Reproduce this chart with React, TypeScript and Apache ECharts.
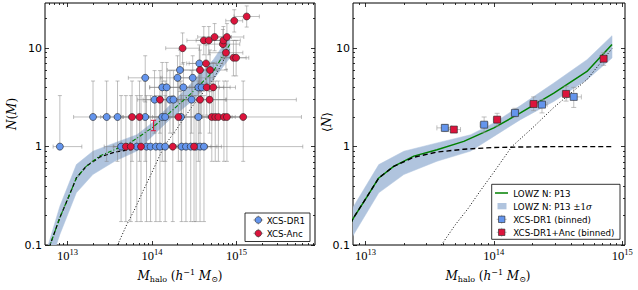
import React, { useEffect, useRef } from "react";
import * as echarts from "echarts";

// ---------------- data ----------------
// LOWZ N: P13 model (total = green, centrals = dashed, satellites = dotted)
const modelMass = [5.0e12, 6.2e12, 8.1e12, 1.03e13, 1.27e13, 1.66e13, 2.38e13, 3.61e13, 5.83e13, 1.0e14, 1.61e14, 2.93e14, 5.31e14, 8.32e14];
const modelTotal = [0.062, 0.1, 0.19, 0.31, 0.48, 0.63, 0.8, 0.93, 1.13, 1.55, 2.2, 3.5, 5.8, 10.9];
const modelCentral = [0.062, 0.1, 0.19, 0.31, 0.48, 0.63, 0.78, 0.88, 0.94, 0.98, 0.99, 1.0, 1.0, 1.0];
const satMass = [3.9e13, 5.0e13, 6.3e13, 7.9e13, 1.0e14, 1.38e14, 2.0e14, 2.93e14, 5.31e14, 8.32e14];
const satN = [0.1, 0.16, 0.235, 0.36, 0.55, 1.0, 1.55, 2.5, 4.8, 9.9];
// in the left panel the centrals curve is only visible up to this mass
const leftCentralMaxMass = 6.0e13;
// ±1 sigma band
const bandMass = [5.0e12, 5.9e12, 8.1e12, 1.27e13, 1.99e13, 3.61e13, 6.6e13, 1.0e14, 1.61e14, 2.93e14, 5.31e14, 8.32e14];
const bandUpper = [0.064, 0.1, 0.248, 0.656, 0.897, 1.09, 1.32, 1.74, 2.61, 4.43, 7.64, 13.4];
const bandLower = [0.039, 0.057, 0.128, 0.339, 0.52, 0.71, 0.9, 1.27, 1.88, 2.88, 4.79, 7.95];

// vertical (count) error limits, per count value
const countValues = [1, 2, 3, 4, 5, 6, 7, 8, 9, 10, 11, 12, 13, 19, 21];
const countLower = [0.173, 0.708, 1.37, 2.09, 2.84, 3.62, 4.42, 5.23, 6.06, 6.89, 7.73, 8.57, 9.42, 14.6, 16.4];
const countUpper = [3.3, 4.64, 5.92, 7.16, 8.38, 9.58, 10.8, 12.0, 13.1, 14.3, 15.5, 16.6, 17.8, 24.6, 26.9];

// XCS-DR1 clusters (mass, count, mass error left/right in dex)
const dr1Mass = [8.1e12, 4.3e13, 6.6e13, 8.6e13, 9.6e13, 1.11e14, 1.24e14, 1.43e14, 2.24e14, 2.52e14, 2.87e14, 3.32e14, 3.7e14, 4.12e14,
  2.0e13, 2.9e13, 3.9e13, 8.3e13, 1.32e14, 1.43e14, 2.2e14, 3.53e14,
  1.07e14, 1.63e14, 1.79e14, 2.94e14,
  1.32e14, 1.49e14, 2.35e14, 3.53e14, 3.87e14,
  8.3e13, 2.0e14, 3.03e14,
  2.14e14, 3.63e14];
const dr1N = [1, 1, 1, 1, 1, 1, 1, 1, 1, 1, 1, 1, 1, 1,
  2, 2, 2, 2, 2, 2, 2, 2,
  3, 3, 3, 3,
  4, 4, 4, 4, 4,
  5, 5, 5,
  6, 7];
const dr1ErrL = [0.08, 0.2, 0.15, 0.2, 0.15, 0.2, 0.25, 0.15, 0.2, 0.2, 0.15, 0.2, 0.25, 0.3,
  0.23, 0.15, 0.2, 0.2, 0.2, 0.15, 0.2, 0.25,
  0.2, 0.2, 0.15, 0.25,
  0.15, 0.2, 0.2, 0.2, 0.25,
  0.2, 0.2, 0.2,
  0.15, 0.15];
const dr1ErrR = [0.26, 0.2, 0.2, 0.25, 0.15, 0.2, 0.2, 0.3, 0.2, 0.25, 0.2, 0.3, 0.2, 1.17,
  0.2, 0.2, 0.2, 0.25, 0.2, 0.2, 0.2, 0.3,
  0.2, 0.25, 0.2, 1.24,
  0.2, 0.2, 0.2, 0.25, 0.4,
  0.2, 0.2, 0.25,
  0.2, 0.2];
const dr1UpperOnly = [0];

// XCS-Anc clusters
const ancMass = [4.9e13, 5.6e13, 7.4e13, 1.76e14, 3.14e14,
  5.8e13, 7.1e13, 2.05e14, 5.1e14, 5.6e14, 6.1e14, 7.1e14, 7.7e14, 1.2e15,
  1.24e14, 3.7e14, 4.8e14,
  4.44e14, 5.3e14,
  3.7e14, 4.86e14,
  4.36e14, 9.2e14, 9.9e14, 7.5e14, 2.3e14, 6.9e14,
  4.1e14, 4.7e14, 7.0e14, 5.5e14, 7.7e14, 9.4e14, 1.32e15];
const ancN = [1, 1, 1, 1, 1,
  2, 2, 2, 2, 2, 2, 2, 2, 2,
  3, 3, 3,
  4, 4,
  6, 6,
  7, 8, 8, 9, 10, 11,
  12, 12, 12, 13, 13, 19, 21];
const ancErrL = [0.15, 0.2, 0.2, 0.2, 0.2,
  0.2, 0.2, 0.2, 0.2, 0.15, 0.2, 0.2, 0.15, 0.25,
  0.2, 0.2, 0.15,
  0.2, 0.2,
  0.2, 0.15,
  0.2, 0.15, 0.15, 0.2, 0.2, 0.2,
  0.2, 0.15, 0.2, 0.2, 0.15, 0.1, 0.15];
const ancErrR = [0.2, 0.2, 0.2, 0.25, 0.2,
  0.2, 0.25, 0.2, 0.2, 0.2, 0.2, 0.25, 0.2, 0.69,
  0.25, 0.3, 0.2,
  0.2, 0.2,
  0.2, 0.2,
  0.2, 0.15, 0.15, 0.2, 0.2, 0.2,
  0.2, 0.2, 0.2, 0.2, 0.2, 0.1, 0.15];

// single red limit marker
const limitMass = [1.04e14];
const limitN = [1.55];
const limitLo = [1.45];
const limitHi = [1.85];

// binned points (right panel)
const binDr1Mass = [4.15e13, 8.4e13, 1.46e14, 2.37e14, 4.19e14];
const binDr1MLo = [3.6e13, 7.8e13, 1.37e14, 2.2e14, 3.7e14];
const binDr1MHi = [4.7e13, 9.0e13, 1.56e14, 2.6e14, 4.8e14];
const binDr1N = [1.55, 1.67, 2.2, 2.67, 3.2];
const binDr1NLo = [1.42, 1.4, 2.0, 2.2, 2.5];
const binDr1NHi = [1.68, 2.0, 2.45, 3.0, 4.0];

const binAncMass = [4.88e13, 1.06e14, 2.04e14, 3.65e14, 7.16e14];
const binAncMLo = [4.45e13, 9.9e13, 1.9e14, 3.4e14, 6.8e14];
const binAncMHi = [5.5e13, 1.13e14, 2.2e14, 3.9e14, 7.5e14];
const binAncN = [1.49, 1.88, 2.71, 3.43, 7.82];
const binAncNLo = [1.43, 1.62, 2.32, 2.9, 6.7];
const binAncNHi = [1.56, 2.18, 3.2, 4.1, 9.0];

// axes
const xRangeLeft = [5.4e12, 8.5e15];
const xRangeRight = [8.0e12, 1.05e15];
const yRange = [0.1, 28.8];
const xTickExp = [13, 14, 15];
const yTickVals = [0.1, 1, 10];
const yTickLabels = ["0.1", "1", "10"];
const minorMult = [2, 3, 4, 5, 6, 7, 8, 9];

// ---------------- helpers ----------------
const LG = (v: number) => Math.log10(v);

const BLUE = "#6495ED";
const RED = "#DC143C";
const BAND = "#b0c4de";
const GREEN = "#008000";

function minorTicks(lo: number, hi: number) {
  const out: number[] = [];
  for (let d = Math.floor(LG(lo)) - 1; d <= Math.ceil(LG(hi)); d++) {
    for (const k of minorMult) {
      const v = LG(k) + d;
      if (v > LG(lo) && v < LG(hi)) out.push(v);
    }
  }
  return out;
}

function axisSet(dim: "x" | "y", grid: number, range: number[], major: number[], labelCfg: any) {
  const min = LG(range[0]);
  const max = LG(range[1]);
  const minor = minorTicks(range[0], range[1]);
  const base: any = {
    type: "value", gridIndex: grid, min, max, silent: true,
    axisLine: { show: false, onZero: false }, splitLine: { show: false }, minorTick: { show: false },
  };
  const posA = dim === "x" ? "bottom" : "left";
  const posB = dim === "x" ? "top" : "right";
  const tick = (vals: number[], len: number) => ({
    show: true, inside: true, length: len, customValues: vals,
    lineStyle: { color: "#000", width: 0.8 },
  });
  return [
    { ...base, position: posA, axisTick: tick(major, 4), axisLabel: { ...labelCfg, customValues: major } },
    { ...base, position: posA, axisTick: tick(minor, 2), axisLabel: { show: false } },
    { ...base, position: posB, axisTick: tick(major, 4), axisLabel: { show: false } },
    { ...base, position: posB, axisTick: tick(minor, 2), axisLabel: { show: false } },
  ];
}

const xLabelCfg = {
  show: true,
  margin: 2,
  formatter: (v: number) => `{b|10}{s|${Math.round(v)}}`,
  rich: {
    b: { fontFamily: "Liberation Serif", fontSize: 12.5, color: "#000" },
    s: { fontFamily: "Liberation Serif", fontSize: 8.5, color: "#000", padding: [0, 0, 8, 0] },
  },
};
const yLabelCfg = {
  show: true,
  margin: 3,
  fontFamily: "DejaVu Sans",
  fontSize: 11,
  color: "#000",
  formatter: (v: number) => {
    const i = yTickVals.findIndex((t) => Math.abs(LG(t) - v) < 1e-6);
    return i >= 0 ? yTickLabels[i] : "";
  },
};

function linePts(ms: number[], ns: number[]) {
  return ms.map((m, i) => [LG(m), LG(ns[i])]);
}

function bandSeries(xi: number, yi: number) {
  const up = linePts(bandMass, bandUpper);
  const lo = linePts(bandMass, bandLower);
  return {
    type: "custom", xAxisIndex: xi, yAxisIndex: yi, clip: true, silent: true, z: 1,
    encode: { x: 0, y: 1 },
    data: [[LG(bandMass[6]), LG(bandUpper[6])]],
    renderItem: (_p: any, api: any) => {
      const pts = up.map((p) => api.coord(p)).concat(lo.slice().reverse().map((p) => api.coord(p)));
      return { type: "polygon", shape: { points: pts }, style: { fill: BAND, stroke: BAND, lineWidth: 0.5 } };
    },
  };
}

function errorSeries(rows: number[][], xi: number, yi: number, color: string, cap: number, z: number) {
  return {
    type: "custom", xAxisIndex: xi, yAxisIndex: yi, clip: true, silent: true, z,
    encode: { x: 0, y: 1 },
    data: rows,
    renderItem: (_p: any, api: any) => {
      const x = api.value(0), y = api.value(1), x0 = api.value(2), x1 = api.value(3), y0 = api.value(4), y1 = api.value(5);
      const c = api.coord([x, y]);
      const a = api.coord([x0, y]);
      const b = api.coord([x1, y]);
      const lo = api.coord([x, y0]);
      const hi = api.coord([x, y1]);
      const style = { stroke: color, lineWidth: 1 };
      const seg = (p: number, q: number, r: number, s: number) => ({ type: "line", shape: { x1: p, y1: q, x2: r, y2: s }, style });
      const ch: any[] = [];
      if (x1 > x0) {
        ch.push(seg(a[0], c[1], b[0], c[1]));
        ch.push(seg(a[0], c[1] - cap, a[0], c[1] + cap));
        ch.push(seg(b[0], c[1] - cap, b[0], c[1] + cap));
      }
      if (y1 > y0) {
        ch.push(seg(c[0], lo[1], c[0], hi[1]));
        if (y0 < y) ch.push(seg(c[0] - cap, lo[1], c[0] + cap, lo[1]));
        ch.push(seg(c[0] - cap, hi[1], c[0] + cap, hi[1]));
      }
      return { type: "group", children: ch };
    },
  };
}

function clusterRows(ms: number[], ns: number[], el: number[], er: number[], upperOnly: number[]) {
  return ms.map((m, i) => {
    const k = countValues.indexOf(ns[i]);
    const lx = LG(m);
    const ly = LG(ns[i]);
    const yl = upperOnly.includes(i) ? ly : LG(countLower[k]);
    return [lx, ly, lx - el[i], lx + er[i], yl, LG(countUpper[k])];
  });
}

function binRows(ms: number[], mlo: number[], mhi: number[], ns: number[], nlo: number[], nhi: number[]) {
  return ms.map((m, i) => [LG(m), LG(ns[i]), LG(mlo[i]), LG(mhi[i]), LG(nlo[i]), LG(nhi[i])]);
}

function lineSeries(xi: number, yi: number, data: number[][], color: string, width: number, type: any, z: number) {
  return {
    type: "line", xAxisIndex: xi, yAxisIndex: yi, data, showSymbol: false, symbol: "none", silent: true,
    clip: true, z, lineStyle: { color, width, type }, emphasis: { disabled: true },
  };
}

function scatterSeries(xi: number, yi: number, data: number[][], color: string, symbol: string, size: number) {
  return {
    type: "scatter", xAxisIndex: xi, yAxisIndex: yi, data, symbol, symbolSize: size, silent: true, z: 6,
    itemStyle: { color, borderColor: "#222", borderWidth: 0.6, opacity: 1 },
  };
}

// ---------------- graphic (titles + legends) ----------------
const serifI = { fontFamily: "DejaVu Serif", fontStyle: "italic", fontSize: 12, fill: "#000" };
const serifR = { fontFamily: "DejaVu Serif", fontSize: 12, fill: "#000" };
const titleRich = {
  i: serifI,
  r: serifR,
  sub: { fontFamily: "DejaVu Serif", fontSize: 8, fill: "#000", padding: [6, 0, 0, 0] },
  sup: { fontFamily: "DejaVu Serif", fontSize: 8, fill: "#000", padding: [0, 0, 7, 0] },
};
const xTitle = "{i|M}{sub|halo}{r| (}{i|h}{sup|−1}{r| }{i|M}{sub|⊙}{r|)}";

function titleText(x: number, y: number, text: string, rot = 0) {
  return {
    type: "text", x, y, rotation: rot, z: 100, silent: true,
    style: { text, rich: titleRich, align: "center", verticalAlign: "middle" },
  };
}

const legFont = { fontFamily: "DejaVu Sans", fontSize: 8.7, fill: "#000" };
function legText(x: number, y: number, text: string, rich?: any) {
  return { type: "text", x, y, z: 101, silent: true, style: { ...legFont, text, rich, align: "left", verticalAlign: "middle" } };
}
function legErrIcon(x: number, y: number, color: string) {
  const st = { stroke: color, lineWidth: 1 };
  return [
    { type: "line", z: 101, silent: true, shape: { x1: x - 5, y1: y, x2: x + 5, y2: y }, style: st },
    { type: "line", z: 101, silent: true, shape: { x1: x, y1: y - 4.5, x2: x, y2: y + 4.5 }, style: st },
  ];
}

const graphics: any[] = [
  titleText(180, 276, xTitle),
  titleText(488, 276, xTitle),
  titleText(12, 114, "{i|N}{r|(}{i|M}{r|)}", Math.PI / 2),
  titleText(327, 122, "{r|⟨}{i|N}{r|⟩}", Math.PI / 2),
  // left legend
  { type: "rect", z: 100, silent: true, shape: { x: 245, y: 213, width: 65, height: 28.5 }, style: { fill: "#fff", stroke: "#000", lineWidth: 0.8 } },
  ...legErrIcon(258.3, 220, "rgba(128,128,128,0.6)"),
  { type: "circle", z: 102, silent: true, shape: { cx: 258.3, cy: 220, r: 3.3 }, style: { fill: BLUE, stroke: "#222", lineWidth: 0.6 } },
  legText(266.7, 220.5, "XCS-DR1"),
  ...legErrIcon(258.3, 233.3, "rgba(128,128,128,0.6)"),
  { type: "circle", z: 102, silent: true, shape: { cx: 258.3, cy: 233.3, r: 3.3 }, style: { fill: RED, stroke: "#222", lineWidth: 0.6 } },
  legText(266.7, 233.8, "XCS-Anc"),
  // right legend
  { type: "rect", z: 100, silent: true, shape: { x: 491.7, y: 184.3, width: 128.3, height: 55 }, style: { fill: "#fff", stroke: "#000", lineWidth: 0.8 } },
  { type: "line", z: 101, silent: true, shape: { x1: 495, y1: 193, x2: 508, y2: 193 }, style: { stroke: GREEN, lineWidth: 1.5 } },
  legText(513.3, 193.5, "LOWZ N: P13"),
  { type: "rect", z: 101, silent: true, shape: { x: 497.5, y: 203, width: 9, height: 6.3 }, style: { fill: BAND } },
  legText(513.3, 206.5, "{t|LOWZ N: P13 }{m|±1}{mi|σ}", {
    t: legFont,
    m: { fontFamily: "DejaVu Serif", fontSize: 8.7, fill: "#000" },
    mi: { fontFamily: "DejaVu Serif", fontStyle: "italic", fontSize: 8.7, fill: "#000" },
  }),
  ...legErrIcon(501.7, 219.3, "rgba(160,160,160,0.7)"),
  { type: "rect", z: 102, silent: true, shape: { x: 498.5, y: 216.1, width: 6.4, height: 6.4 }, style: { fill: BLUE, stroke: "#222", lineWidth: 0.6 } },
  legText(513.3, 219.8, "XCS-DR1 (binned)"),
  ...legErrIcon(501.7, 232.3, "rgba(160,160,160,0.7)"),
  { type: "rect", z: 102, silent: true, shape: { x: 498.5, y: 229.1, width: 6.4, height: 6.4 }, style: { fill: RED, stroke: "#222", lineWidth: 0.6 } },
  legText(513.3, 232.8, "XCS-DR1+Anc (binned)"),
];

// ---------------- option ----------------
function buildOption() {
  const xMajor = xTickExp.slice();
  const yMajor = yTickVals.map((v) => LG(v));
  const xAxes = [
    ...axisSet("x", 0, xRangeLeft, xMajor, xLabelCfg),
    ...axisSet("x", 1, xRangeRight, xMajor, xLabelCfg),
  ];
  const yAxes = [
    ...axisSet("y", 0, yRange, yMajor, yLabelCfg),
    ...axisSet("y", 1, yRange, yMajor, yLabelCfg),
  ];
  const errGrey = "rgba(128,128,128,0.5)";
  const errLight = "rgba(150,150,150,0.6)";
  const leftCentral = linePts(modelMass, modelCentral).filter((p) => p[0] <= LG(leftCentralMaxMass));
  const series: any[] = [
    // left panel
    bandSeries(0, 0),
    lineSeries(0, 0, leftCentral, "#000", 1.3, [4, 2.5], 2),
    lineSeries(0, 0, linePts(satMass, satN), "#000", 1, [1, 2], 2),
    errorSeries(clusterRows(dr1Mass, dr1N, dr1ErrL, dr1ErrR, dr1UpperOnly), 0, 0, errGrey, 2, 3),
    errorSeries(clusterRows(ancMass, ancN, ancErrL, ancErrR, []), 0, 0, errGrey, 2, 3),
    lineSeries(0, 0, linePts(modelMass, modelTotal), GREEN, 1.1, [4, 2, 1, 2], 4),
    errorSeries(limitMass.map((m, i) => [LG(m), LG(limitN[i]), LG(m), LG(m), LG(limitLo[i]), LG(limitHi[i])]), 0, 0, RED, 2.5, 5),
    scatterSeries(0, 0, linePts(dr1Mass, dr1N), BLUE, "circle", 7),
    scatterSeries(0, 0, linePts(ancMass, ancN), RED, "circle", 7),
    // right panel
    bandSeries(4, 4),
    lineSeries(4, 4, linePts(modelMass, modelTotal), GREEN, 1.5, "solid", 3),
    lineSeries(4, 4, linePts(modelMass, modelCentral), "#000", 1.4, [5, 3], 3),
    lineSeries(4, 4, linePts(satMass, satN), "#000", 1, [1, 2], 3),
    errorSeries(binRows(binDr1Mass, binDr1MLo, binDr1MHi, binDr1N, binDr1NLo, binDr1NHi), 4, 4, errLight, 2.5, 4),
    errorSeries(binRows(binAncMass, binAncMLo, binAncMHi, binAncN, binAncNLo, binAncNHi), 4, 4, errLight, 2.5, 4),
    scatterSeries(4, 4, linePts(binDr1Mass, binDr1N), BLUE, "rect", 7),
    scatterSeries(4, 4, linePts(binAncMass, binAncN), RED, "rect", 7),
  ];
  return {
    animation: false,
    backgroundColor: "#fff",
    grid: [
      { left: 45, top: 3, width: 270, height: 242, show: true, borderColor: "#000", borderWidth: 1, backgroundColor: "transparent" },
      { left: 353, top: 3, width: 272, height: 242, show: true, borderColor: "#000", borderWidth: 1, backgroundColor: "transparent" },
    ],
    xAxis: xAxes,
    yAxis: yAxes,
    series,
    graphic: { elements: graphics },
  };
}

export default function App() {
  const ref = useRef<HTMLDivElement>(null);
  useEffect(() => {
    if (!ref.current) return;
    const chart = echarts.init(ref.current, undefined, { renderer: "svg" });
    chart.setOption(buildOption() as any);
    return () => chart.dispose();
  }, []);
  return (
    <div
      ref={ref}
      style={{ position: "fixed", left: 0, top: 0, width: 638, height: 290, background: "#fff" }}
    />
  );
}
